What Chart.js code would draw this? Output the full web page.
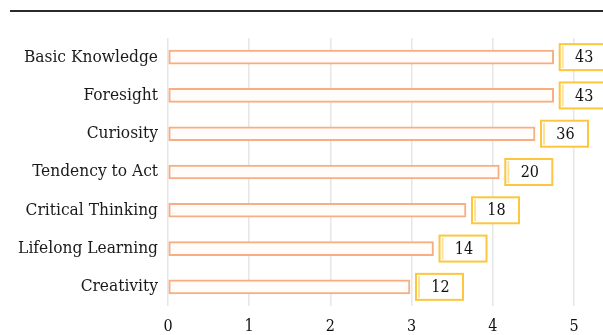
<!DOCTYPE html>
<html>
<head>
<meta charset="utf-8">
<script src="https://cdn.jsdelivr.net/npm/chart.js@4"></script>
<style>
html,body{margin:0;padding:0;background:#fff;}
#wrap{width:603px;height:335px;position:relative;}
</style>
</head>
<body>
<div id="wrap"><canvas id="c" width="603" height="335"></canvas></div>
<script>
const categories = ["Basic Knowledge","Foresight","Curiosity","Tendency to Act","Critical Thinking","Lifelong Learning","Creativity"];
const scores = [4.75, 4.75, 4.52, 4.08, 3.67, 3.27, 2.98];
const counts = [43, 43, 36, 20, 18, 14, 12];
const xTicks = [0, 1, 2, 3, 4, 5];

const FONT = "'DejaVu Serif Condensed', 'DejaVu Serif', serif";

const decorPlugin = {
  id: 'decor',
  beforeDraw(chart) {
    const ctx = chart.ctx;
    ctx.save();
    ctx.strokeStyle = '#2a2a2a';
    ctx.lineWidth = 2;
    ctx.beginPath();
    ctx.moveTo(10, 11);
    ctx.lineTo(603, 11);
    ctx.stroke();
    ctx.restore();
  },
  afterDatasetsDraw(chart) {
    const ctx = chart.ctx;
    const meta = chart.getDatasetMeta(0);
    ctx.save();
    meta.data.forEach((el, i) => {
      const bx = el.x + 6, by = el.y - 13, bw = 47, bh = 26;
      ctx.fillStyle = '#ffffff';
      ctx.fillRect(bx, by, bw, bh);
      ctx.strokeStyle = '#fcc73e';
      ctx.lineWidth = 2;
      ctx.strokeRect(bx, by, bw, bh);
      ctx.strokeStyle = '#fde39a';
      ctx.lineWidth = 2;
      ctx.beginPath();
      ctx.moveTo(bx + 3, by + 2);
      ctx.lineTo(bx + 3, by + bh - 2);
      ctx.stroke();
      ctx.fillStyle = '#111';
      ctx.font = '16px ' + FONT;
      ctx.textAlign = 'center';
      ctx.textBaseline = 'middle';
      ctx.fillText(String(counts[i]), bx + bw / 2 + 1, el.y + 1);
    });
    ctx.restore();
  }
};

new Chart(document.getElementById('c'), {
  type: 'bar',
  data: {
    labels: categories,
    datasets: [{
      data: scores,
      backgroundColor: '#fffcfa',
      borderColor: '#f6ae82',
      borderWidth: 2,
      borderSkipped: false,
      barThickness: 14
    }]
  },
  options: {
    indexAxis: 'y',
    responsive: false,
    animation: false,
    devicePixelRatio: 1,
    layout: { padding: { top: 38, right: 29, left: 0, bottom: 0 } },
    plugins: { legend: { display: false }, tooltip: { enabled: false } },
    scales: {
      x: {
        min: 0, max: 5,
        afterBuildTicks(s) { s.ticks = xTicks.map(v => ({ value: v })); },
        afterFit(s) { s.height = 29; },
        grid: { color: '#e6e6e6', lineWidth: 1.5, drawTicks: false },
        border: { display: false },
        ticks: { color: '#111', font: { family: FONT, size: 16 }, padding: 11 }
      },
      y: {
        afterFit(s) { s.width = 168; },
        grid: { display: false, drawTicks: false },
        border: { display: false },
        ticks: { color: '#1a1a1a', font: { family: FONT, size: 17.2 }, padding: 10 }
      }
    }
  },
  plugins: [decorPlugin]
});
</script>
</body>
</html>
